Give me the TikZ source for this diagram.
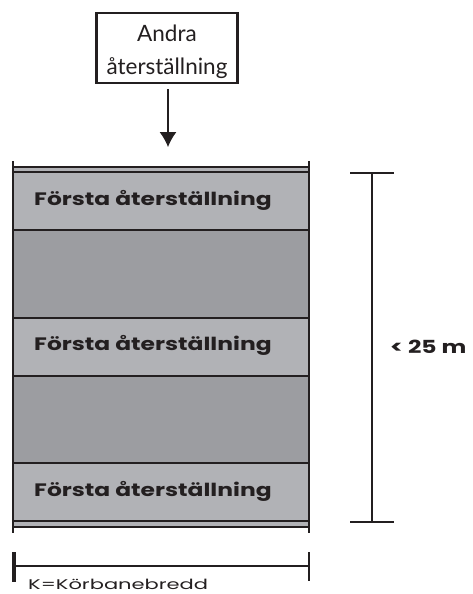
\documentclass[tikz,border=0pt]{standalone}
\usepackage{fontspec}
\usetikzlibrary{arrows.meta}
\setmainfont{Lato}
\newfontfamily\widebold[FakeStretch=1.3]{Poppins}
\newfontfamily\widereg[FakeStretch=1.5]{Poppins}
\definecolor{lightband}{HTML}{B1B2B6}
\definecolor{darkband}{HTML}{9C9DA1}
\definecolor{ink}{HTML}{231F20}
\tikzset{
  px/.style={x=1pt,y=-1pt},
  band/.style={draw=ink,line width=2.4pt},
  side/.style={draw=ink,line width=2.8pt},
  thin/.style={draw=ink,line width=1.1pt},
  lab/.style={font=\widebold\fontsize{18}{18}\selectfont\bfseries,text=ink,anchor=base west,inner sep=0pt},
}
\begin{document}
\begin{tikzpicture}[px]
\useasboundingbox (0,0) rectangle (473,594);
\fill[lightband] (13,167) rectangle (309,230);
\fill[darkband] (13,230) rectangle (309,318);
\fill[lightband] (13,318) rectangle (309,376);
\fill[darkband] (13,376) rectangle (309,463);
\fill[lightband] (13,463) rectangle (309,527);
\draw[band] (13,167) -- (309,167);
\draw[thin] (13,172) -- (309,172);
\draw[band] (13,230) -- (309,230);
\draw[band] (13,318) -- (309,318);
\draw[thin] (13,376) -- (309,376);
\draw[band] (13,463) -- (309,463);
\draw[thin] (13,521) -- (309,521);
\draw[band] (13,527) -- (309,527);
\draw[side] (13,161) -- (13,533);
\draw[side] (309,161) -- (309,533);
\node[lab] (a) at (34,205) {Första återställning};
\node[lab] (b) at (34,350.5) {Första återställning};
\node[lab] (c) at (34,496) {Första återställning};
\node[draw=ink,line width=2.4pt,fill=white,minimum width=141pt,minimum height=70pt,inner sep=0pt,align=center,font=\fontsize{22.5}{33}\selectfont,text=ink] (box) at (167,48) {\rule{0pt}{24pt}Andra\\återställning};
\coordinate (tip) at (168,147);
\draw[thin,-{Latex[length=15pt,width=17pt]}] (168,89) -- (tip);
\coordinate (t1) at (350,173); \coordinate (t2) at (394,173);
\coordinate (b1) at (350,522); \coordinate (b2) at (394,522);
\coordinate (tm) at (372,173); \coordinate (bm) at (372,522);
\draw[thin] (t1) -- (t2);
\draw[thin] (b1) -- (b2);
\draw[thin] (tm) -- (bm);
\node[lab] (d) at (390,353) {< 25 m};
\coordinate (l) at (14,566); \coordinate (r) at (309,566);
\draw[draw=ink,line width=3.4pt] (14,552) -- (14,582);
\draw[thin] (309,552) -- (309,581);
\draw[thin] (l) -- (r);
\node[font=\widereg\fontsize{14}{16}\selectfont,text=ink,anchor=base west,inner sep=0pt] (k) at (28,589) {K=Körbanebredd};
\end{tikzpicture}
\end{document}
